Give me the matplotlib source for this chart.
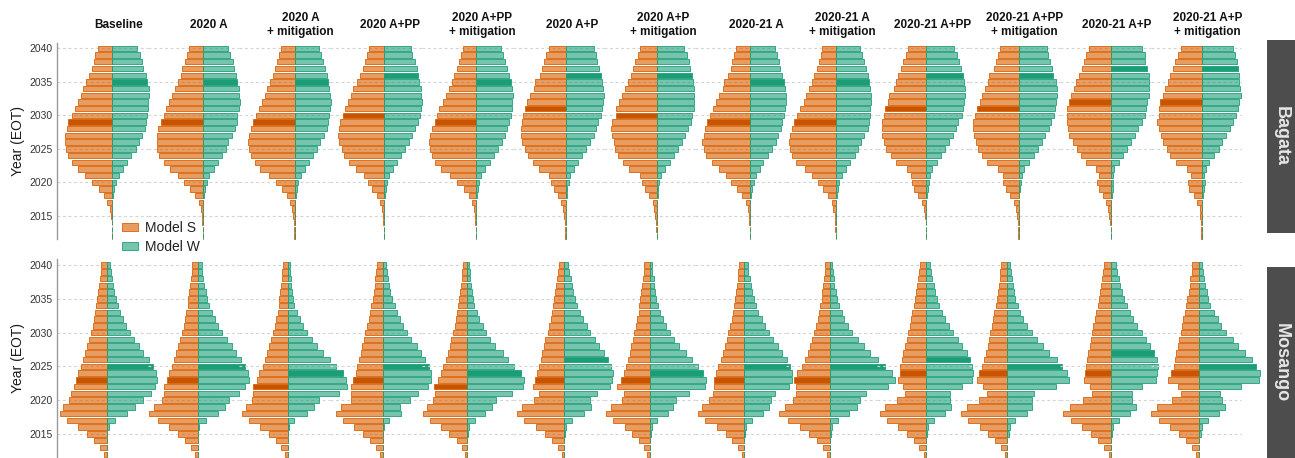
import numpy as np
import matplotlib.pyplot as plt
from matplotlib.patches import Rectangle, Patch
from matplotlib.colors import to_rgba

plt.rcParams['font.family'] = ['Liberation Sans', 'DejaVu Sans']

# one bin per year, listed top (2040) to bottom (2012)
years = np.arange(2040, 2011, -1)

scenarios = ['Baseline', '2020 A', '2020 A\n+ mitigation', '2020 A+PP',
             '2020 A+PP\n+ mitigation', '2020 A+P', '2020 A+P\n+ mitigation',
             '2020-21 A', '2020-21 A\n+ mitigation', '2020-21 A+PP',
             '2020-21 A+PP\n+ mitigation', '2020-21 A+P', '2020-21 A+P\n+ mitigation']
regions = ['Bagata', 'Mosango']

# Bagata - share of runs reaching EOT in each year
bagata_s = [
    [14.7, 17, 18.3, 20.3, 23, 26.3, 29, 31.7, 34.3, 37.3, 40.7, 44, 45.7, 47, 47.3, 46.3, 44, 40.3, 34.3, 27.3, 20.3, 13.3, 8.7, 5, 2.7, 1.3, 0.7, 0.5, 0.3],
    [14, 16, 18.3, 21.3, 22.7, 25.7, 28, 31, 34.7, 37.3, 39.7, 42.7, 45.3, 46.7, 46.7, 46, 44, 39, 33.3, 25, 19.3, 13, 8, 4.7, 2.7, 1.7, 1, 0.5, 0.3],
    [13.7, 15.7, 17.7, 19.7, 22, 24.7, 27.3, 30, 32.7, 36, 38.7, 41.3, 43.7, 45.7, 47, 45.7, 44, 39.7, 34.7, 25.3, 18.7, 12.3, 7.7, 4.7, 3, 1.7, 1, 0.5, 0.3],
    [15.7, 17.3, 19.3, 21.7, 24.3, 27.7, 31, 33.7, 36.3, 39.3, 41.7, 44, 45.7, 46, 45, 42.7, 40.3, 35.7, 28.3, 20.3, 16, 12, 7.7, 4.3, 2.7, 1.7, 1, 0.5, 0.3],
    [13, 15, 17.3, 19.7, 22, 24.3, 27.3, 30.3, 33.3, 37, 39.7, 41.7, 44, 46.3, 47.3, 46.3, 44.3, 41, 35.3, 26.3, 19.3, 12.3, 7.7, 4.3, 2.7, 1.7, 1, 0.5, 0.3],
    [16.7, 19.7, 21.7, 23.7, 26, 30.3, 31.7, 36, 38.3, 40.7, 42.7, 44, 45, 45, 43.7, 41, 37.3, 32.7, 26.7, 16.3, 15, 12, 7.7, 4.7, 2.3, 1.3, 0.7, 0.5, 0.3],
    [16.7, 19, 21.7, 23.7, 26.3, 29.3, 32, 35, 37.7, 41, 41.3, 44.7, 45.7, 45, 43.3, 41.7, 38.7, 34, 28.3, 16.7, 15, 12, 7.7, 4.3, 2.7, 1.7, 1, 0.5, 0.3],
    [14, 16.3, 18.3, 19.7, 22, 26, 27.3, 31.3, 34.3, 37.3, 40.3, 43.3, 45, 46.3, 48, 46.7, 44.7, 38.7, 31.3, 24.3, 19.3, 13, 8, 4.7, 2.7, 1.7, 1, 0.5, 0.3],
    [14, 15, 17, 19, 22, 24.3, 27, 30, 32.3, 36, 39, 41.7, 44.3, 45.7, 47, 46.3, 44.3, 40, 31, 24.3, 17.7, 13, 8.3, 4.3, 2.7, 1.3, 0.7, 0.5, 0.3],
    [18, 20.3, 23, 25.7, 28, 30.3, 32.7, 37.3, 38.7, 41, 42.7, 44.3, 44.7, 44.3, 42.7, 40, 35.3, 30.3, 19, 15.3, 14.7, 12, 8, 4.3, 2.3, 1.3, 0.7, 0.5, 0.3],
    [18.7, 20.7, 23, 24.7, 29.3, 31, 33.7, 36.3, 38.7, 41.3, 43.7, 45.3, 46, 44.7, 42.7, 40.3, 36.7, 31.3, 20.3, 15.7, 15.3, 12.3, 8.3, 4.7, 2.7, 1.7, 1, 0.5, 0.3],
    [21.7, 25, 27, 29.3, 32.3, 35, 37, 40.3, 42, 43.7, 44, 44.3, 42.7, 41.7, 38, 34.3, 30, 25, 15, 11.7, 13.7, 12.3, 8.3, 4.7, 2.7, 1.7, 1, 0.5, 0.3],
    [21, 23.7, 26.3, 28.7, 31.7, 34, 36.3, 39, 41.7, 42.7, 43, 44.3, 42.7, 40.3, 38.3, 35, 31.3, 25.7, 14.3, 10.7, 13.3, 12.3, 7.3, 4.3, 2, 1.3, 0.7, 0.5, 0.3],
]
bagata_w = [
    [24.7, 27.7, 29.7, 31, 33.3, 34.7, 36.3, 36.3, 36, 35.7, 35, 33.7, 32.3, 29.3, 26.3, 23.3, 18.7, 14.7, 10.7, 7, 3.3, 1.3, 0.3, 0, 0, 0, 0, 0, 0],
    [25, 27, 29.3, 30.7, 32.7, 33.7, 35.3, 36, 36.3, 36, 34, 33.3, 31.3, 28.3, 25, 22.3, 19, 14.7, 10.3, 6, 3.3, 2, 0.7, 0, 0, 0, 0, 0, 0],
    [24, 26, 28, 30, 32, 33.3, 34.7, 35.3, 36, 35.3, 34.7, 33.7, 32, 29, 25.7, 22.7, 18.7, 14, 10.7, 6.3, 3.3, 2, 1, 0, 0, 0, 0, 0, 0],
    [26.7, 28, 30.7, 32.3, 33.3, 35, 36.7, 37, 37.3, 36.3, 35.7, 33.3, 30.3, 27.7, 25, 21, 16.3, 13, 8.3, 4.3, 2.7, 1.3, 0.7, 0, 0, 0, 0, 0, 0],
    [25, 27, 29, 31, 33, 34.3, 35.7, 36.3, 36, 35.7, 35, 33, 30.7, 28.7, 25.7, 21.3, 17.3, 13.3, 8.7, 4.3, 3, 2, 1, 0, 0, 0, 0, 0, 0],
    [28, 30, 31.3, 33.3, 35, 36.3, 37.3, 38, 37.3, 36, 35, 32.7, 30.3, 28, 24.3, 20, 16, 12, 8, 4, 3, 1.7, 1, 0, 0, 0, 0, 0, 0],
    [27.3, 29.7, 31.7, 33.3, 34.7, 35.7, 37, 37.3, 37.3, 36.7, 34.7, 33.7, 30.7, 28, 24.7, 20.7, 16.7, 12.7, 8, 3.7, 2.3, 1.3, 0.7, 0, 0, 0, 0, 0, 0],
    [24.3, 26.7, 28.3, 30, 32, 33.3, 34.7, 35.3, 35.3, 34.7, 34, 32, 30.3, 28, 25.3, 21.3, 17.7, 13, 9.7, 5.3, 3.3, 2, 1, 0, 0, 0, 0, 0, 0],
    [23.7, 25.7, 28, 29.7, 32.3, 33, 34.3, 35.3, 35.3, 34.3, 34.3, 32.7, 31.7, 27.7, 24.7, 21.7, 18.7, 14, 9.7, 5.7, 2.7, 1.7, 1, 0, 0, 0, 0, 0, 0],
    [28, 30.7, 33, 34.3, 36.3, 37.3, 38.7, 38.7, 38, 36.3, 35.3, 31.3, 29.3, 27, 23, 18.7, 15, 10.3, 5.3, 3.3, 2.3, 1.7, 0.7, 0, 0, 0, 0, 0, 0],
    [28.3, 29.3, 31.7, 33.3, 34.3, 37.7, 38, 38, 37.7, 36, 35, 32.3, 30, 26.3, 23, 19, 15, 10, 5, 3, 2, 1.3, 0.7, 0, 0, 0, 0, 0, 0],
    [31, 33.7, 34.3, 36.3, 37.7, 38.3, 38.3, 38.3, 36.3, 35, 33.7, 31.3, 27.3, 23.7, 19.7, 16, 11.7, 7.7, 3.3, 2, 2.3, 1.7, 1, 0, 0, 0, 0, 0, 0],
    [31, 33, 35, 36.3, 37, 37.7, 38.3, 39, 37.7, 36, 34, 31.3, 28, 24.7, 20.7, 17, 12.7, 7.7, 4, 2.3, 3, 2, 1, 0, 0, 0, 0, 0, 0],
]

# Mosango
mosango_s = [
    [5.3, 6, 6.7, 7.7, 8.7, 9.7, 10.7, 11.3, 12.7, 14, 15.7, 17.7, 19.7, 21.7, 24, 26, 28.3, 30.7, 32.7, 35.3, 37.7, 44, 46.7, 39.3, 28.3, 19.3, 12.3, 6.7, 3],
    [5.3, 5.7, 6.7, 7.7, 8.3, 9.3, 10, 11.3, 12.3, 13.7, 15.3, 17.3, 19.3, 21.7, 24, 25.7, 28.7, 30.3, 33.3, 33.7, 36, 43.7, 48.3, 39.7, 29, 19.3, 12.3, 6.3, 2.7],
    [5, 5.3, 6, 6.7, 7.7, 8.3, 9, 10, 11.3, 13, 14.3, 16.7, 18.3, 20.3, 23, 25, 28.3, 30.7, 35, 34.3, 36, 41.7, 46, 38.7, 27.7, 19, 11.7, 6.7, 2.7],
    [6, 6.7, 7.3, 8, 8.7, 10, 11.3, 12.7, 14, 15.7, 17.7, 19, 20.7, 22, 24, 26, 27, 29.3, 31.7, 31.3, 31.3, 42, 47, 39.3, 28.3, 19.7, 12.7, 6.7, 2.7],
    [4.7, 5, 5.7, 6.3, 7, 8, 9, 10, 11, 12.7, 14.3, 16.3, 17.3, 19.3, 21.3, 24, 26.3, 29.7, 33.3, 32.7, 34, 40.7, 44.7, 37, 26, 18, 10.7, 5.7, 2.3],
    [5.7, 6.3, 7.3, 8, 9, 10, 11.3, 12.7, 13.7, 15.3, 16.7, 19, 20.3, 22, 23.7, 25.3, 27.3, 29.3, 31, 25.7, 30.3, 42, 47, 40.3, 28.7, 19.7, 12.7, 6, 2.3],
    [5.7, 6, 7, 8, 8.7, 9.7, 10.7, 11.3, 13, 14, 15.7, 17, 18.7, 20, 21.7, 23.7, 25.7, 29, 32.7, 25.7, 28, 38.7, 44.3, 37, 25, 18, 11.3, 6.3, 2.7],
    [5.3, 6, 6.7, 7.3, 8.3, 9.3, 10.3, 11.7, 12.7, 14.3, 16, 17.7, 19.3, 21.7, 23.7, 26.3, 28.3, 30, 30.3, 31, 35, 42, 46.7, 39, 27.7, 18.7, 12, 6, 2.7],
    [5, 5.3, 6, 6.7, 7.7, 8.3, 9.7, 11, 12.3, 13.7, 15.7, 17.7, 19.7, 22, 24.7, 28, 33, 36.3, 34, 34, 37, 45, 50.7, 41.7, 30, 20.7, 12.7, 7, 2.7],
    [6.3, 7.3, 8.3, 9.3, 10, 11, 12, 13.7, 15, 16, 17.7, 19, 21, 23, 24.3, 26, 26, 27.7, 22.7, 21, 28.7, 41, 45.7, 38.7, 27.7, 18.7, 11.7, 6.7, 2.3],
    [6, 7, 7.7, 8.7, 9.3, 10, 11.3, 13, 14.3, 15.3, 17, 18, 19.3, 21.3, 23, 25.3, 28, 30.7, 24, 20.7, 28, 40.7, 46.3, 39.3, 27.3, 19, 12.3, 6.3, 2.7],
    [7.3, 8.3, 9, 10, 11, 12.3, 13.3, 15.3, 16, 17.7, 18.7, 20.3, 21.3, 23, 24.3, 25.3, 26, 27, 21, 19.3, 27.7, 41, 47.7, 40.3, 29.3, 20, 12.7, 6.7, 2.3],
    [7, 7.7, 9, 9.7, 10.7, 12, 13, 14.7, 16, 17, 18.7, 20, 21.3, 23, 24.3, 25.7, 28, 31, 21.7, 18.7, 27.7, 42, 48.7, 40.7, 29.7, 20.7, 13, 7, 3],
]
mosango_w = [
    [3.7, 4.3, 5.3, 6, 7.3, 9, 11, 13, 16, 19, 23, 27.7, 32, 36.7, 42, 46.3, 49, 50, 48, 44, 36.7, 28.3, 20, 8, 2, 0.3, 0, 0, 0],
    [4, 4.7, 5.7, 6.3, 8, 9.3, 11.7, 14, 17.3, 20.3, 24.7, 29, 34, 38.7, 43, 47, 50.7, 51, 47.3, 41, 31, 27, 20.3, 8, 1.7, 0.7, 0, 0, 0],
    [2, 2.3, 3, 3.7, 4.7, 5.7, 6.3, 9.7, 12, 15, 19, 24, 29, 35, 42, 48.7, 55, 58.7, 59, 51, 31.3, 26, 19, 6.7, 1.7, 0.7, 0, 0, 0],
    [3.7, 4, 5, 6.3, 7.7, 9.7, 12, 14.7, 17.3, 20.7, 24, 28.7, 34, 38, 42.7, 46, 48, 48, 45.3, 35, 27, 17.3, 18, 6.7, 1.3, 0.7, 0, 0, 0],
    [2, 2.3, 3, 4, 5, 6, 7, 9.3, 12, 15.3, 19, 22.7, 28, 35.3, 41, 47, 53.3, 57, 56, 44.3, 28.3, 24.3, 17.7, 7.3, 2, 1, 0, 0, 0],
    [4, 5, 6.3, 7.3, 9, 10.7, 13, 16, 18.7, 22.3, 26, 30.3, 34.7, 39.3, 44, 46.7, 49, 48, 45.3, 32.3, 26, 26.3, 19.3, 8, 2, 0.7, 0, 0, 0],
    [1.7, 2.3, 3.7, 4.3, 4.7, 5.7, 8, 10, 12.7, 16, 19.7, 24.3, 29.3, 35.7, 41.7, 47.7, 52.7, 55.7, 55, 38.7, 26.3, 23.3, 17.7, 7, 1.7, 1, 0, 0, 0],
    [3.3, 4, 5.3, 6.3, 8, 9.3, 11.3, 14, 17.3, 20.3, 24.3, 28.3, 33.3, 38, 42.3, 46, 47.3, 47.7, 44.7, 30.3, 26.3, 25, 18.7, 7.3, 1.3, 0.7, 0, 0, 0],
    [2.3, 2.7, 3.7, 4.3, 5.7, 7, 8.7, 11.7, 14.3, 18, 22.3, 27.7, 33.7, 40, 47.7, 55, 61.7, 65.3, 57.7, 35.7, 29.7, 27, 19.3, 7.7, 1.7, 1, 0, 0, 0],
    [4.3, 5, 6.3, 7.7, 9, 11.3, 13.3, 16.3, 19.3, 23, 27.3, 32, 36.3, 40.7, 44, 46.3, 47, 45.7, 35.7, 24, 24, 25, 18.7, 7.7, 2, 1, 0, 0, 0],
    [2.7, 3.3, 4.3, 5.3, 6.3, 7.7, 10.3, 12.3, 15.7, 19.7, 24.3, 29.3, 36, 41.7, 49.3, 55, 60, 61.3, 48.7, 26.3, 25, 24.3, 19.3, 7.7, 2.7, 1.7, 0, 0, 0],
    [4.7, 5.7, 7.7, 9, 10.7, 12.7, 15.7, 18.7, 22.3, 26, 30.7, 34.7, 39, 43.3, 45.7, 46.7, 46.3, 44.7, 30.7, 20.7, 21, 24.7, 19.3, 7.7, 2.3, 1.3, 0, 0, 0],
    [3, 3.7, 4.7, 6, 7.7, 9, 11, 14.3, 18.3, 21.7, 26.7, 33.7, 39, 45.7, 52.3, 56.7, 60.3, 59.7, 41.3, 21, 23, 25.7, 20, 8.3, 2.3, 1.3, 0, 0, 0],
]

# median EOT year per scenario (highlighted bar)
bagata_s_median = [2029, 2029, 2029, 2030, 2029, 2031, 2030, 2029, 2029, 2031, 2031, 2032, 2032]
bagata_w_median = [2035, 2035, 2035, 2036, 2035, 2036, 2036, 2035, 2035, 2036, 2036, 2037, 2037]
mosango_s_median = [2023, 2023, 2022, 2023, 2022, 2023, 2023, 2023, 2023, 2024, 2024, 2024, 2024]
mosango_w_median = [2025, 2025, 2024, 2025, 2024, 2026, 2024, 2025, 2025, 2026, 2025, 2027, 2025]

S_COL = '#d95f02'
W_COL = '#1b9e77'
S_DARK = '#c65400'
W_DARK = '#1b9e77'

# figure layout in pixels
FW, FH = 1295, 458
x0 = 57
col_w = 91.15
rows_px = [(42.7, 239.3), (259.3, 457.6)]
# horizontal shift of the zero line inside each panel
x_offset = [[9.7, 9.5, 9.8, 8.3, 9.1, 7.4, 7.5, 9.7, 4.2, 3.4, 4.6, 5.8, 5.3],
            [4.1, 4.0, 2.8, 6.7, 0.1, 6.0, 0.5, 3.7, -1.8, 3.1, -6.8, 5.8, 2.9]]

fig = plt.figure(figsize=(FW / 100, FH / 100), dpi=100)

data = [(bagata_s, bagata_w, bagata_s_median, bagata_w_median),
        (mosango_s, mosango_w, mosango_s_median, mosango_w_median)]


def bar_colors(base, dark, median, alpha):
    return [dark if y == median else to_rgba(base, alpha) for y in years]


for r, (s_all, w_all, s_med, w_med) in enumerate(data):
    top, bot = rows_px[r]
    for k in range(len(scenarios)):
        ax = fig.add_axes([(x0 + col_w * k) / FW, 1 - bot / FH,
                           col_w / FW, (bot - top) / FH])
        ax.patch.set_visible(False)
        off = x_offset[r][k]
        s_vals = np.array(s_all[k])
        w_vals = np.array(w_all[k])

        ax.barh(years, -s_vals, height=0.8,
                color=bar_colors(S_COL, S_DARK, s_med[k], 0.62),
                edgecolor=to_rgba(S_COL, 0.85), linewidth=0.7, clip_on=False)
        ax.barh(years, w_vals, height=0.8,
                color=bar_colors(W_COL, W_DARK, w_med[k], 0.6),
                edgecolor=to_rgba(W_COL, 0.85), linewidth=0.7, clip_on=False)

        ax.set_xlim(-(col_w / 2 + off), col_w / 2 - off)
        ax.set_ylim(2011.5, 2040.85)
        ax.set_xticks([])
        ax.set_yticks([2015, 2020, 2025, 2030, 2035, 2040])
        ax.grid(axis='y', color='#d2d2d2', linewidth=0.8, linestyle=(0, (2.5, 2.5)))
        ax.set_axisbelow(True)
        for sp in ax.spines.values():
            sp.set_visible(False)
        if k == 0:
            ax.spines['left'].set_visible(True)
            ax.spines['left'].set_color('#9a9a9a')
            ax.spines['left'].set_linewidth(1.0)
            ax.tick_params(axis='y', length=0, pad=3, labelsize=7.5, labelcolor='#333333')
        else:
            ax.tick_params(axis='y', length=0, labelleft=False)

        if r == 0:
            cx = x0 + col_w * (k + 0.5) + off + 6
            fig.text(cx / FW, 1 - 25 / FH, scenarios[k], ha='center', va='center',
                     fontsize=8.5, fontweight='bold', color='#111111')

    # y label and region strip
    fig.text(18 / FW, 1 - (top + bot) / 2 / FH, 'Year (EOT)', rotation=90,
             ha='center', va='center', fontsize=10, color='#1a1a1a')

strips = [(40, 233), (266.7, 470)]
for (t, b), name in zip(strips, regions):
    fig.add_artist(Rectangle((1267 / FW, 1 - b / FH), (FW - 1267) / FW, (b - t) / FH,
                             transform=fig.transFigure, facecolor='#4d4d4d',
                             edgecolor='none'))
    fig.text(1281.5 / FW, 1 - (t + min(b, FH)) / 2 / FH, name, rotation=270,
             ha='center', va='center', fontsize=13, fontweight='bold', color='#e6e6e6')

handles = [Patch(facecolor=to_rgba(S_COL, 0.62), edgecolor=to_rgba(S_COL, 0.85),
                 linewidth=0.7, label='Model S'),
           Patch(facecolor=to_rgba(W_COL, 0.6), edgecolor=to_rgba(W_COL, 0.85),
                 linewidth=0.7, label='Model W')]
fig.legend(handles=handles, loc='upper left', bbox_to_anchor=(122 / FW, 1 - 221 / FH),
           frameon=False, fontsize=10, handlelength=1.15, handleheight=0.45,
           handletextpad=0.5, labelspacing=0.35, borderpad=0, borderaxespad=0,
           labelcolor='#222222')

fig.savefig('out.png', dpi=100)
